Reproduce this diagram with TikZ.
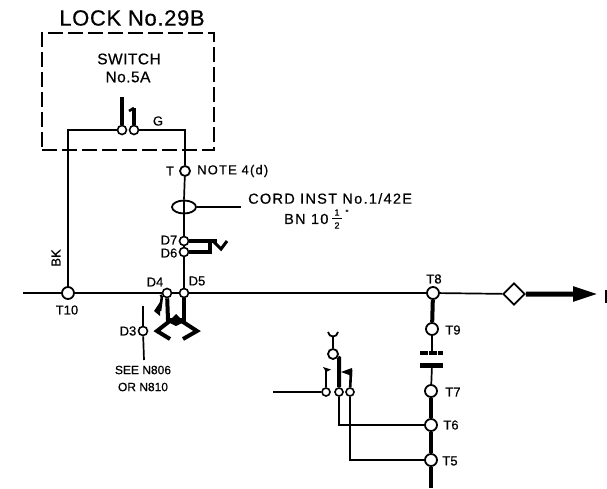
\documentclass[tikz,border=0pt]{standalone}
\usepackage{fontspec}
\setmainfont{Liberation Sans}[LetterSpace=9,FakeBold=0.6]
\usetikzlibrary{arrows.meta,shapes.geometric}
\newcommand{\fa}{\fontsize{14.5}{16}\selectfont}
\newcommand{\fn}{\fontsize{13}{15}\selectfont}
\newcommand{\ft}{\fontsize{13}{15}\selectfont\addfontfeature{LetterSpace=0}}
\newcommand{\fs}{\fontsize{12}{14}\selectfont\addfontfeature{LetterSpace=0}}
\newcommand{\ff}{\fontsize{9}{10}\selectfont\addfontfeature{LetterSpace=0}}
\newcommand{\fb}{\fontsize{15.5}{17}\selectfont\addfontfeature{LetterSpace=3}}
\newcommand{\fc}{\fontsize{22}{24}\selectfont\addfontfeature{LetterSpace=3}}
\tikzset{
 wire/.style={line width=1.7pt,black},
 thin wire/.style={line width=1.4pt,black},
 heavy/.style={line width=4pt,black},
 mid/.style={line width=2.6pt,black},
 termS/.style={circle,draw=black,fill=white,line width=1.6pt,inner sep=0pt,minimum size=9pt},
 termL/.style={circle,draw=black,fill=white,line width=1.8pt,inner sep=0pt,minimum size=12pt},
 lbl/.style={inner sep=0pt,font=\ft,text=black},
}
\begin{document}
\begin{tikzpicture}[x=1pt,y=-1pt]
\useasboundingbox (0,0) rectangle (607,489);
% enclosure
\node[draw=black,line width=2pt,dash pattern=on 15pt off 5pt,minimum width=172pt,minimum height=117pt,inner sep=0pt] (lockbox) at (128,91.5) {};
\node[lbl,font=\fc] (locklabel) at (132,18) {LOCK No.29B};
\node[lbl,font=\fb] (sw1label) at (129,59) {SWITCH};
\node[lbl,font=\fb] (sw2label) at (128,77) {No.5A};
% terminals
\node[termS] (sa) at (122,130) {};
\node[termS] (sb) at (134,130) {};
\node[termL,minimum size=10pt] (t) at (185,171) {};
\node[termS] (d7) at (184,241) {};
\node[termS] (d6) at (184,252) {};
\node[termS] (d5) at (184,293) {};
\node[termS] (d4) at (167,293) {};
\node[termS] (d3) at (143,331) {};
\node[termL] (t10) at (68,293) {};
\node[termL] (t8) at (433,293) {};
\node[termL] (t9) at (432,329) {};
\node[termL] (t7) at (431,391) {};
\node[termL] (t6) at (431,425) {};
\node[termL] (t5) at (431,460) {};
\node[termL,minimum size=10pt] (k0) at (333,354) {};
\node[termS,minimum size=8pt] (k1) at (326,392) {};
\node[termS,minimum size=8pt] (k2) at (339,392) {};
\node[termS,minimum size=8pt] (k3) at (350,392) {};
\node[draw=black,fill=white,line width=1.8pt,shape=rectangle,rotate=45,minimum size=15pt,inner sep=0pt] (dia) at (514,294) {};
\node[draw=black,line width=1.8pt,ellipse,minimum width=24pt,minimum height=13pt,inner sep=0pt] (cord) at (184,207) {};
% free ends
\coordinate (lstart) at (23,293);
\coordinate (sa0) at (122,97);
\coordinate (sb0) at (134,108);
\coordinate (tip) at (598,294);
\coordinate (cordend) at (241,207);
\coordinate (d3up) at (143,306);
\coordinate (d3dn) at (144,360);
\coordinate (p1) at (432,353);
\coordinate (p2) at (432,365);
\coordinate (tend) at (431,488);
\coordinate (kleft) at (273,392);
\coordinate (cross) at (176,320);
% wires
\draw[wire] (sa) -| (t10);
\draw[wire] (sb) -| (t);
\draw[wire] (t) -- (cord.north);
\draw[wire] (cord.north) -- (cord.south);
\draw[wire] (cord.south) -- (d7);
\draw[wire] (d7) -- (d6);
\draw[wire] (d6) -- (d5);
\draw[wire] (cord) -- (cordend);
\draw[wire] (lstart) -- (t10);
\draw[wire] (t10) -- (d4);
\draw[wire] (d4) -- (d5);
\draw[wire] (d5) -- (t8);
\draw[wire] (t8) -- (dia);
\draw[wire] (d3up) -- (d3);
\draw[wire] (d3) -- (d3dn);
\draw[wire] (t9) -- (p1);
\draw[wire] (p2) -- (t7);
\draw[wire] (kleft) -- (k1);
\draw[thin wire] (k2) |- (t6);
\draw[thin wire] (k3) |- (t5);
% heavy runs
\draw[heavy] (t8) -- (t9);
\draw[heavy] (t7) -- (t6);
\draw[heavy] (t6) -- (t5);
\draw[heavy] (t5) -- (tend);
\draw[line width=5pt,-{Triangle[length=25pt,width=14pt]}] (dia) -- (tip);
\draw[line width=2.5pt] (606,290) -- (606,303);
\draw[line width=3.5pt,dash pattern=on 8pt off 1pt] (420,353) -- (443,353);
\draw[line width=5pt] (420,365) -- (443,365);
% springs
\draw[heavy] (sa) -- (sa0);
\draw[heavy] (sb) -- (sb0);
\draw[mid] (sb0) -- (129,111);
\draw[heavy] (d7) -- (217,241);
\draw[heavy] (d6) -- (210,252) -- (210,243);
\draw[line width=3pt] (212,240) -- (221,249) -- (227,241);
\draw[heavy] (k2) -- (339,358) -- (k0);
\draw[mid] (k1) -- (326,369);
\fill (323,367) -- (331,369.5) -- (326,372) -- cycle;
\draw[mid] (k3) -- (351,370);
\fill (352,368) -- (341,372) -- (352,376) -- cycle;
\draw[line width=1.8pt] (328,332) .. controls (329,338) and (337,338) .. (338,332);
\draw[line width=1.6pt] (333,336) -- (k0);
% fork
\draw[heavy] (d4) -- (168,320) -- (cross);
\draw[heavy] (d5) -- (184,320) -- (cross);
\draw[line width=4pt] (171,320) -- (157,331) -- (170,339);
\draw[line width=4pt] (180,320) -- (197,331) -- (183,339);
\fill (168,322) -- (176,314) -- (184,322) -- (176,326) -- cycle;
\draw[mid] (162,296) -- (160,311);
\fill (160,302) -- (160,316) -- (154,311) -- cycle;
\draw[wire] (160,296) -- (d4);
% labels
\node[lbl] (lg) at (158,121) {G};
\node[lbl] (lt) at (170,171) {T};
\node[lbl,anchor=west,font=\fn] (lnote) at (197,171) {NOTE 4(d)};
\node[lbl,anchor=west,font=\fa] (lcord) at (248,198.5) {CORD INST No.1/42E};
\node[lbl,anchor=west,font=\fa] (lbn) at (284,219) {BN 10};
\node[lbl,font=\ff] (fr1) at (337,212.5) {1};
\node[lbl,font=\ff] (fr2) at (337,225.5) {2};
\draw[line width=1.3pt] (332,218.5) -- (342,218.5);
\node[lbl,font=\ff] (frq) at (347,213) {"};
\node[lbl] (ld7) at (169,240) {D7};
\node[lbl] (ld6) at (169,253) {D6};
\node[lbl] (ld5) at (197,281) {D5};
\node[lbl] (ld4) at (155,282) {D4};
\node[lbl] (ld3) at (128,331) {D3};
\node[lbl,font=\fs] (lsee) at (143,370) {SEE N806};
\node[lbl,font=\fs] (lor) at (143,387) {OR N810};
\node[lbl,rotate=90] (lbk) at (56,258) {BK};
\node[lbl] (lt10) at (67,310) {T10};
\node[lbl] (lt8) at (434,279) {T8};
\node[lbl] (lt9) at (453,330) {T9};
\node[lbl] (lt7) at (453,392) {T7};
\node[lbl] (lt6) at (451,425) {T6};
\node[lbl] (lt5) at (450,461) {T5};
\end{tikzpicture}
\end{document}
